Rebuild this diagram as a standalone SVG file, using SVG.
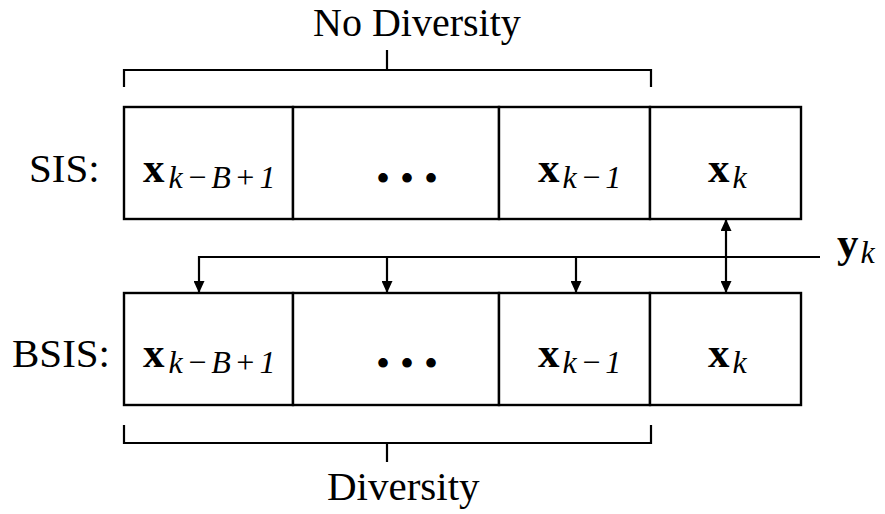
<svg xmlns="http://www.w3.org/2000/svg" width="885" height="514" viewBox="0 0 885 514">
<style>
.ln{fill:none;stroke:#000;stroke-width:2.2}
.box{fill:#fff;stroke:#000;stroke-width:2.4}
.t{font-family:"Liberation Serif","Times New Roman",serif;font-size:41px;fill:#000}
.top{font-size:40px}
.mb{font-family:"Liberation Serif","Times New Roman",serif;font-size:43px;font-weight:bold;fill:#000}
.sub{font-family:"Liberation Serif","Times New Roman",serif;font-size:32px;font-style:italic;font-weight:normal;letter-spacing:3.5px}
.dots{font-family:"Liberation Serif","Times New Roman",serif;font-size:40px;fill:#000}
</style>
<defs>
<marker id="ah" viewBox="0 0 12 11" refX="12" refY="5.5" markerWidth="12" markerHeight="11" markerUnits="userSpaceOnUse" orient="auto-start-reverse">
<path d="M0,0 L12,5.5 L0,11 Z" fill="#000"/>
</marker>
</defs>
<rect width="885" height="514" fill="#fff"/>

<g id="labels">
<text class="t top" x="313" y="36">No Diversity</text>
<text class="t" x="327" y="500">Diversity</text>
<text class="t" x="29" y="182">SIS:</text>
<text class="t" x="12" y="367">BSIS:</text>
<text class="mb" x="837" y="257">y<tspan class="sub" dx="2" dy="6">k</tspan></text>
</g>

<g id="sis-row">
<g id="sis-1"><rect class="box" x="124" y="107" width="169" height="112"/><text class="mb" x="143" y="182">x<tspan class="sub" dx="4" dy="6">k−B+1</tspan></text></g>
<g id="sis-2"><rect class="box" x="293" y="107" width="206" height="112"/><text class="dots" x="407" y="192" text-anchor="middle">• • •</text></g>
<g id="sis-3"><rect class="box" x="499" y="107" width="151" height="112"/><text class="mb" x="538" y="182">x<tspan class="sub" dx="3" dy="6">k−1</tspan></text></g>
<g id="sis-4"><rect class="box" x="650" y="107" width="151" height="112"/><text class="mb" x="708" y="182">x<tspan class="sub" dx="3" dy="6">k</tspan></text></g>
</g>

<g id="bsis-row">
<g id="bsis-1"><rect class="box" x="124" y="293" width="169" height="112"/><text class="mb" x="143" y="367">x<tspan class="sub" dx="4" dy="6">k−B+1</tspan></text></g>
<g id="bsis-2"><rect class="box" x="293" y="293" width="206" height="112"/><text class="dots" x="407" y="377" text-anchor="middle">• • •</text></g>
<g id="bsis-3"><rect class="box" x="499" y="293" width="151" height="112"/><text class="mb" x="538" y="367">x<tspan class="sub" dx="3" dy="6">k−1</tspan></text></g>
<g id="bsis-4"><rect class="box" x="650" y="293" width="151" height="112"/><text class="mb" x="708" y="367">x<tspan class="sub" dx="3" dy="6">k</tspan></text></g>
</g>

<g id="brackets">
<path class="ln" d="M124,87 V70 H651 V87 M387,70 V50"/>
<path class="ln" d="M124,425 V443 H651 V425 M387,443 V462"/>
</g>

<g id="connectors">
<path class="ln" d="M820,257 H199 V293" marker-end="url(#ah)"/>
<path class="ln" d="M387,257 V293" marker-end="url(#ah)"/>
<path class="ln" d="M576,257 V293" marker-end="url(#ah)"/>
<path class="ln" d="M726,219 V293" marker-start="url(#ah)" marker-end="url(#ah)"/>
</g>
</svg>
